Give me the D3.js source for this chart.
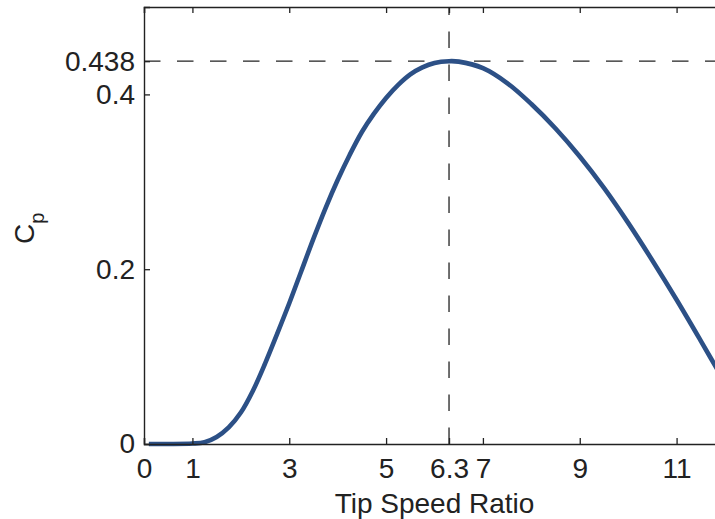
<!DOCTYPE html>
<html>
<head>
<meta charset="utf-8">
<script src="https://cdn.jsdelivr.net/npm/d3@7"></script>
<style>
  body { margin: 0; background: #fff; }
  text { font-family: "Liberation Sans", Arial, Helvetica, sans-serif; fill: #222; }
</style>
</head>
<body>
<div id="body"></div>
<script>
// values
var tsr = [0.1, 0.5, 1, 1.25, 1.5, 1.75, 2, 2.25, 2.5, 2.75, 3, 3.25, 3.5, 3.75, 4, 4.25, 4.5, 4.75,
           5, 5.25, 5.5, 5.75, 6, 6.3, 6.5, 7, 7.5, 8, 8.5, 9, 9.5, 10, 10.5, 11, 11.5, 12];
var cp  = [0, 0, 0.0005, 0.002, 0.008, 0.019, 0.036, 0.061, 0.092, 0.126, 0.161, 0.198, 0.235, 0.270,
           0.302, 0.331, 0.357, 0.378, 0.396, 0.411, 0.423, 0.431, 0.436, 0.438, 0.4375, 0.430, 0.413,
           0.389, 0.361, 0.329, 0.293, 0.253, 0.210, 0.165, 0.118, 0.070];
var xTicks = [0, 1, 3, 5, 6.3, 7, 9, 11];
var yTicks = [0, 0.2, 0.4, 0.438];
var peakX = 6.3, peakY = 0.438;

var margin = {top: 7, left: 144},
    width = 725 - margin.left,
    height = 444 - margin.top;

var svg = d3.select("#body").append("svg")
    .attr("width", 715)
    .attr("height", 519);

var x = d3.scaleLinear().domain([0, 12]).range([margin.left, margin.left + width]);
var y = d3.scaleLinear().domain([0, 0.5]).range([margin.top + height, margin.top]);

var data = tsr.map((d, i) => ({x: d, y: cp[i]}));

// reference lines at the peak
svg.append("line")
    .attr("x1", x(0)).attr("x2", x(12))
    .attr("y1", y(peakY)).attr("y2", y(peakY))
    .attr("stroke", "#222").attr("stroke-width", 1.3)
    .attr("stroke-dasharray", "16.5,16.5");
svg.append("line")
    .attr("x1", x(peakX)).attr("x2", x(peakX))
    .attr("y1", y(0)).attr("y2", y(0.5))
    .attr("stroke", "#222").attr("stroke-width", 1.3)
    .attr("stroke-dasharray", "16.5,16.5");

// curve
var line = d3.line()
    .x(d => x(d.x))
    .y(d => y(d.y))
    .curve(d3.curveCatmullRom.alpha(0.5));

svg.append("path")
    .datum(data)
    .attr("fill", "none")
    .attr("stroke", "#2c5086")
    .attr("stroke-width", 4.6)
    .attr("d", line);

// axes, MATLAB style ticks inside the box
var xAxis = d3.axisBottom(x).tickValues(xTicks).tickSize(-6).tickPadding(14).tickFormat(d => d);
var gx = svg.append("g")
    .attr("transform", "translate(0," + y(0) + ")")
    .call(xAxis);

var xTop = d3.axisTop(x).tickValues(xTicks).tickSize(-6).tickFormat("");
var gt = svg.append("g")
    .attr("transform", "translate(0," + y(0.5) + ")")
    .call(xTop);

var yAxis = d3.axisLeft(y).tickValues(yTicks).tickSize(-6).tickPadding(9).tickFormat(d => d);
var gy = svg.append("g")
    .attr("transform", "translate(" + x(0) + ",0)")
    .call(yAxis);

[gx, gt, gy].forEach(g => {
    g.select(".domain").attr("stroke", "#222").attr("stroke-width", 1.4);
    g.selectAll(".tick line").attr("stroke", "#222").attr("stroke-width", 1.3);
    g.selectAll("text").style("font-size", "28px").attr("fill", "#222");
});

// axis labels
svg.append("text")
    .attr("x", x(6))
    .attr("y", 513)
    .attr("text-anchor", "middle")
    .style("font-size", "28px")
    .text("Tip Speed Ratio");

var yl = svg.append("text")
    .attr("transform", "translate(34," + 244 + ") rotate(-90)")
    .attr("text-anchor", "start")
    .style("font-size", "28px");
yl.append("tspan").text("C");
yl.append("tspan").attr("dy", 10).style("font-size", "20px").text("p");
</script>
</body>
</html>
